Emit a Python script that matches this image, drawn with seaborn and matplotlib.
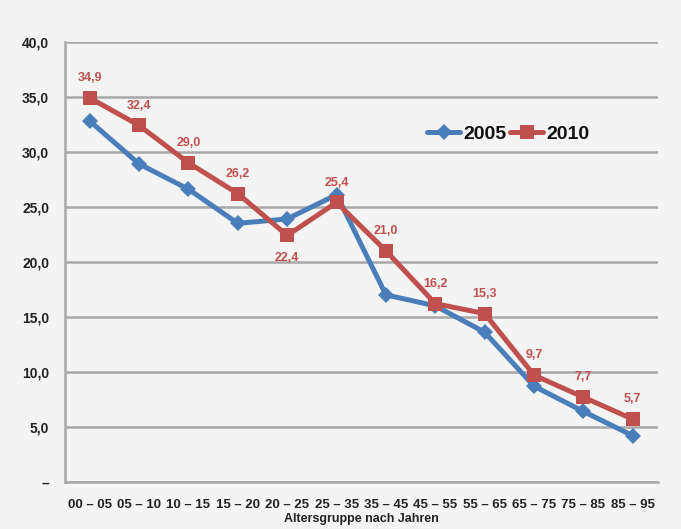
import matplotlib
matplotlib.use("Agg")
import matplotlib.pyplot as plt
import seaborn as sns
import pandas as pd
import numpy as np

categories = ["00 – 05", "05 – 10", "10 – 15", "15 – 20", "20 – 25", "25 – 35",
              "35 – 45", "45 – 55", "55 – 65", "65 – 75", "75 – 85", "85 – 95"]
values_2005 = [32.8, 28.9, 26.6, 23.5, 23.9, 26.1, 17.0, 16.0, 13.6, 8.7, 6.4, 4.2]
values_2010 = [34.9, 32.4, 29.0, 26.2, 22.4, 25.4, 21.0, 16.2, 15.3, 9.7, 7.7, 5.7]
series_names = ["2005", "2010"]
y_ticks = [0, 5, 10, 15, 20, 25, 30, 35, 40]
x_label = "Altersgruppe nach Jahren"

sns.set_style("white")
plt.rcParams["font.family"] = ["Liberation Sans Narrow", "Liberation Sans", "DejaVu Sans"]

BLUE = "#4a7ebb"
RED = "#c0504d"
BG = "#f4f4f4"

df = pd.DataFrame({
    "Kategorie": categories * 2,
    "pos": list(range(len(categories))) * 2,
    "Wert": values_2005 + values_2010,
    "Jahr": [series_names[0]] * len(categories) + [series_names[1]] * len(categories),
})

fig = plt.figure(figsize=(6.81, 5.29), dpi=100)
fig.patch.set_facecolor(BG)
ax = fig.add_axes([0.0955, 0.089, 0.87, 0.832])
ax.set_facecolor(BG)

sns.lineplot(data=df, x="pos", y="Wert", hue="Jahr", style="Jahr",
             palette={series_names[0]: BLUE, series_names[1]: RED},
             markers={series_names[0]: "D", series_names[1]: "s"},
             dashes=False, linewidth=3.6, markersize=9.5, markeredgewidth=0,
             ax=ax, legend=True)
for line in ax.get_lines():
    if line.get_marker() == "D":
        line.set_markersize(8)

ax.set_xlim(-0.5, len(categories) - 0.5)
ax.set_ylim(0, 40)
ax.set_yticks(y_ticks)
ax.set_yticklabels(["–"] + [f"{v:.1f}".replace(".", ",") for v in y_ticks[1:]],
                   fontsize=10, fontweight="bold", color="#222222")
ax.set_xticks(range(len(categories)))
ax.set_xticklabels(categories, fontsize=9.5, fontweight="bold", color="#222222")
ax.set_xticks(np.arange(-0.5, len(categories), 1), minor=True)
ax.tick_params(axis="x", which="major", length=0, pad=12)
ax.tick_params(axis="x", which="minor", length=5, direction="inout", color="#999999", width=1.2)
ax.tick_params(axis="y", length=5, direction="inout", color="#999999", width=1.2, pad=9)
ax.set_xlabel(x_label, fontsize=9, fontweight="bold", color="#222222", labelpad=2)
ax.set_ylabel("")

ax.grid(axis="y", color="#a8a8a8", linewidth=1.8)
ax.set_axisbelow(True)
for s in ["top", "right"]:
    ax.spines[s].set_visible(False)
for s in ["left", "bottom"]:
    ax.spines[s].set_color("#a8a8a8")
    ax.spines[s].set_linewidth(1.8)

for i, v in enumerate(values_2010):
    label = f"{v:.1f}".replace(".", ",")
    if i == 4:
        ax.annotate(label, (i, v), xytext=(0, -12), textcoords="offset points",
                    ha="center", va="top", color=RED, fontsize=9, fontweight="bold")
    else:
        ax.annotate(label, (i, v), xytext=(0, 10), textcoords="offset points",
                    ha="center", va="bottom", color=RED, fontsize=9, fontweight="bold")

leg = ax.legend(loc="upper left", bbox_to_anchor=(0.585, 0.845), ncol=2, frameon=True,
                facecolor=BG, edgecolor=BG, framealpha=1,
                prop={"size": 14, "weight": "bold"}, handlelength=1.7,
                handletextpad=0.15, columnspacing=0.2, borderpad=0.3)
for t in leg.get_texts():
    t.set_color("#111111")

fig.savefig("out.png", dpi=100, facecolor=BG)
